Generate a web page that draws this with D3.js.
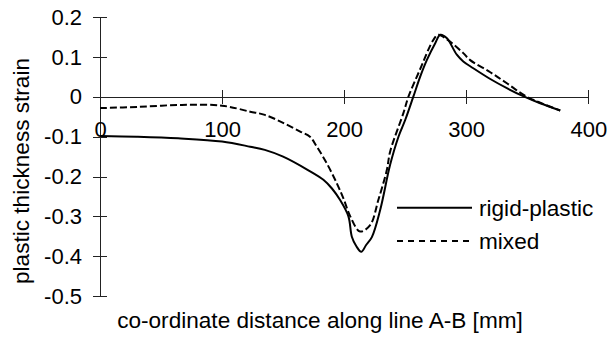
<!DOCTYPE html>
<meta charset="utf-8" />
<style>
  body { margin: 0; background: #fff; }
  svg text { font-family: "Liberation Sans", Arial, sans-serif; font-size: 22px; fill: #000; }
  svg text.big { font-size: 22.6px; }
  .axis path, .axis line { stroke: #222; stroke-width: 1px; shape-rendering: crispEdges; }
  .line { fill: none; stroke: #000; stroke-width: 2px; }
</style>
<svg width="608" height="337"></svg>
<script src="https://d3js.org/d3.v7.min.js"></script>
<script>
  // rigid-plastic (solid)
  var xRigid = [0, 30, 64, 100, 123, 135, 150, 170, 183, 190, 196.7, 203.5, 206.3, 210, 214, 218, 222.7, 229.5, 237.7, 244.5, 250, 256.6, 262.3, 267.8, 274.6, 278.7, 284, 292.3, 297.6, 305.8, 319.7, 333.3, 348, 360.6, 377];
  var vRigid = [-0.098, -0.1, -0.104, -0.112, -0.125, -0.133, -0.15, -0.183, -0.208, -0.23, -0.259, -0.3, -0.351, -0.375, -0.389, -0.372, -0.352, -0.284, -0.17, -0.1, -0.058, 0, 0.051, 0.093, 0.135, 0.156, 0.148, 0.106, 0.089, 0.072, 0.045, 0.022, 0, -0.016, -0.034];

  // mixed (dashed)
  var xMixed = [0, 31, 67, 100, 123, 135, 150, 164, 172, 177.6, 185.8, 194, 199.4, 205, 213, 221.3, 228, 235, 237.7, 248.6, 252.6, 262, 273, 277, 284, 297.6, 303, 319.7, 333, 350, 377];
  var vMixed = [-0.028, -0.025, -0.02, -0.022, -0.037, -0.045, -0.065, -0.087, -0.1, -0.125, -0.167, -0.217, -0.255, -0.3, -0.338, -0.322, -0.259, -0.183, -0.137, -0.04, 0, 0.068, 0.143, 0.156, 0.145, 0.11, 0.093, 0.062, 0.035, 0, -0.034];

  var xTicks = [0, 100, 200, 300, 400];
  var xTickLabels = ['0', '100', '200', '300', '400'];
  var yTicks = [0.2, 0.1, 0, -0.1, -0.2, -0.3, -0.4, -0.5];
  var yTickLabels = ['0.2', '0.1', '0', '-0.1', '-0.2', '-0.3', '-0.4', '-0.5'];
  var seriesNames = ['rigid-plastic', 'mixed'];

  var svg = d3.select('svg');

  var x = d3.scaleLinear().domain([0, 400]).range([100, 588.3]);
  var y = d3.scaleLinear().domain([-0.5, 0.2]).range([296, 17.3]);

  // y axis with ticks crossing the line
  var yAxis = svg.append('g')
    .attr('class', 'axis')
    .attr('transform', 'translate(' + x(0) + ',0)')
    .call(d3.axisLeft(y).tickValues(yTicks).tickSize(7).tickSizeOuter(0).tickPadding(11)
      .tickFormat(function (d, i) { return yTickLabels[i]; }));
  yAxis.selectAll('.tick line').attr('x1', 7);

  // x axis along y = 0
  var xAxis = svg.append('g')
    .attr('class', 'axis')
    .attr('transform', 'translate(0,' + y(0) + ')')
    .call(d3.axisBottom(x).tickValues(xTicks).tickSize(7).tickSizeOuter(0).tickPadding(17)
      .tickFormat(function (d, i) { return xTickLabels[i]; }));
  xAxis.selectAll('.tick line').attr('y1', -7);
  svg.selectAll('.axis text').attr('font-size', null).attr('font-family', null);

  var line = d3.line()
    .curve(d3.curveCatmullRom.alpha(0.5))
    .x(function (d) { return x(d[0]); })
    .y(function (d) { return y(d[1]); });

  svg.append('path')
    .attr('class', 'line')
    .attr('d', line(d3.zip(xRigid, vRigid)));

  svg.append('path')
    .attr('class', 'line')
    .attr('stroke-dasharray', '7,3')
    .attr('d', line(d3.zip(xMixed, vMixed)));

  // legend
  var legend = svg.append('g');
  var legY = [207.7, 241];
  seriesNames.forEach(function (name, i) {
    legend.append('line')
      .attr('x1', 397).attr('x2', 472)
      .attr('y1', legY[i]).attr('y2', legY[i])
      .attr('stroke', '#000').attr('stroke-width', 2)
      .attr('stroke-dasharray', i === 1 ? '6,5' : null);
    legend.append('text')
      .attr('class', 'big')
      .attr('x', 479).attr('y', legY[i] + 8)
      .text(name);
  });

  // axis titles
  svg.append('text')
    .attr('class', 'big')
    .attr('x', 320).attr('y', 328)
    .attr('text-anchor', 'middle')
    .text('co-ordinate distance along line A-B [mm]');

  svg.append('text')
    .attr('class', 'big')
    .attr('transform', 'translate(29,171) rotate(-90)')
    .attr('text-anchor', 'middle')
    .text('plastic thickness strain');
</script>
